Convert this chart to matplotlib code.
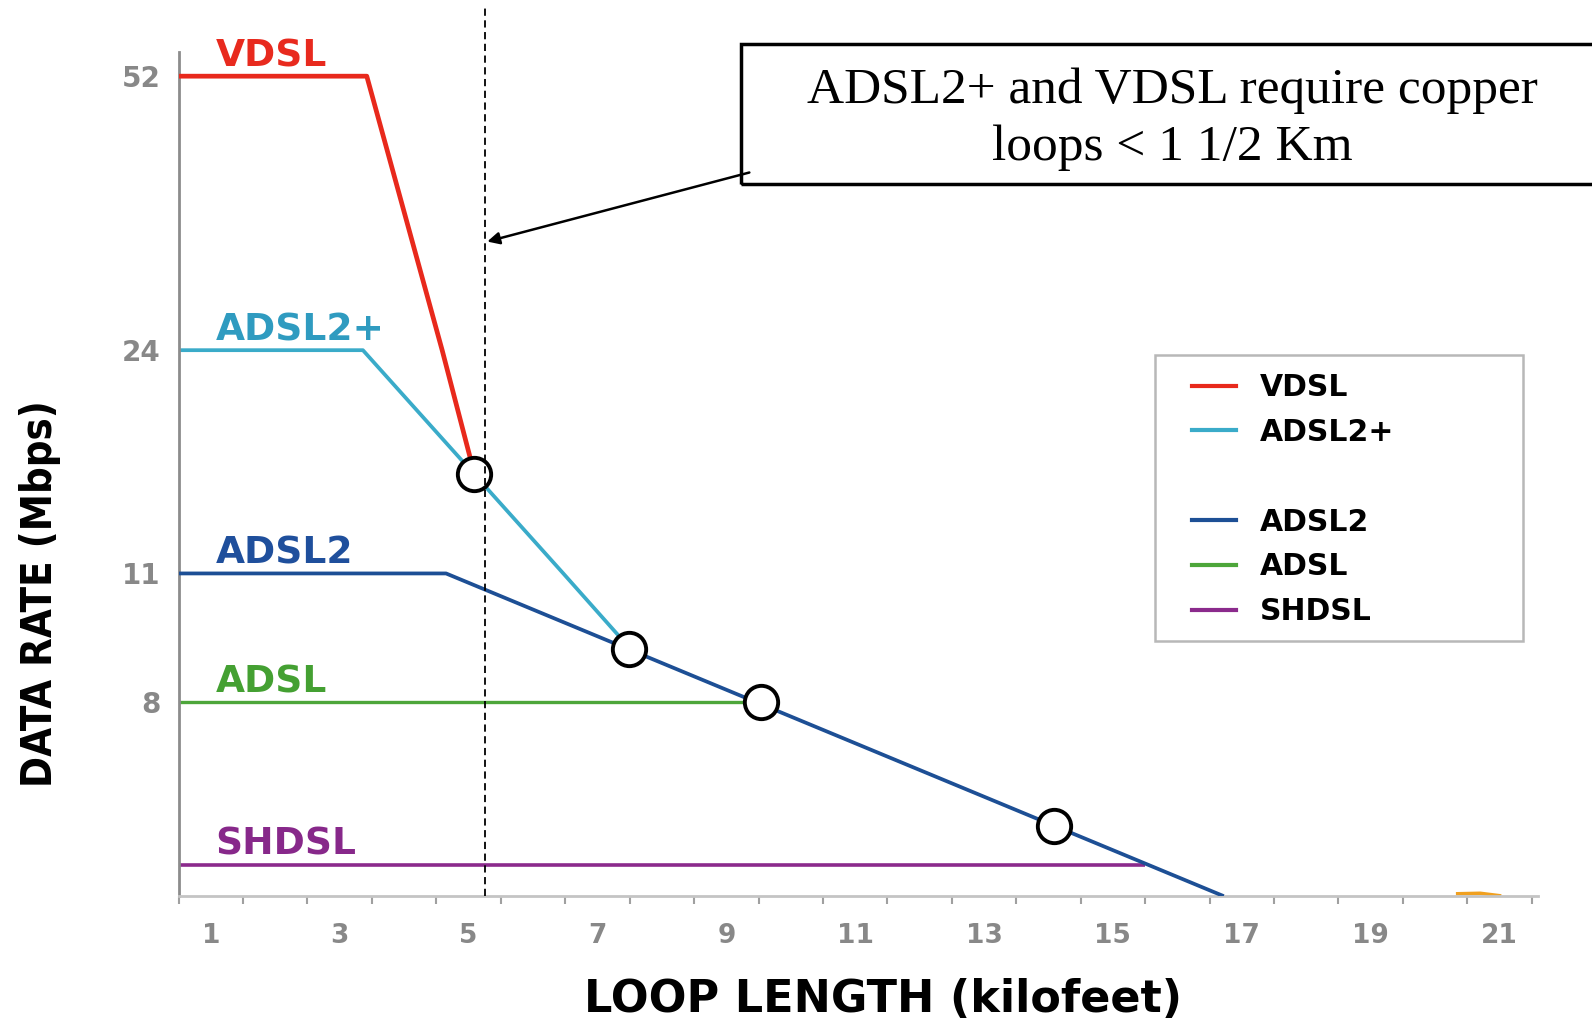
import numpy as np
import matplotlib
matplotlib.use("Agg")
import matplotlib.pyplot as plt
from matplotlib import font_manager as fm
from matplotlib.lines import Line2D
from matplotlib.patches import Rectangle

# series (loop length in kilofeet, data rate in Mbps)
vdsl_x = [0.5, 3.42, 4.59, 5.09]
vdsl_y = [52, 52, 24, 16.8]
adsl2p_x = [0.5, 3.36, 6.47, 7.49]
adsl2p_y = [24, 24, 11, 9.28]
adsl2_x = [0.5, 4.65, 9.47, 16.72]
adsl2_y = [11, 11, 8, 0]
adsl_x = [0.5, 9.5]
adsl_y = [8, 8]
shdsl_x = [0.5, 15.5]
shdsl_y = [1.3, 1.3]
orange_x = [20.35, 20.7, 21.0]
orange_y = [0.1, 0.12, 0.02]

# crossover circles
cross_x = [5.09, 7.49, 9.54, 14.09]
cross_y = [16.8, 9.25, 8.0, 2.9]

names = ["VDSL", "ADSL2+", "ADSL2", "ADSL", "SHDSL"]
line_colors = ["#e8291c", "#3aabc9", "#1d4f95", "#4da63a", "#8b2a8c"]
text_colors = ["#e82a1e", "#2f9bc0", "#1f4f9c", "#44a032", "#87288a"]

y_ticks = [8, 11, 24, 52]
x_ticks = [1, 3, 5, 7, 9, 11, 13, 15, 17, 19, 21]

# the rate axis is not linear: piecewise scale between the labelled rates
scale_vals = [0, 8, 11, 24, 52, 60]
scale_pos = [0, 191, 318, 538, 808, 885]


def fwd(v):
    return np.interp(v, scale_vals, scale_pos)


def inv(p):
    return np.interp(p, scale_pos, scale_vals)


# narrow bold font for the y label if there is one
installed = fm.fontManager.ttflist
ylab_font = {"family": "DejaVu Sans", "size": 26}
if any(f.name == "Liberation Sans Narrow" for f in installed):
    ylab_font = {"family": "Liberation Sans Narrow", "size": 33}
elif any(f.name == "DejaVu Sans" and f.stretch == "condensed" for f in installed):
    ylab_font = {"family": "DejaVu Sans", "size": 30, "stretch": "condensed"}

fig = plt.figure(figsize=(15.92, 10.25), dpi=100)
ax = fig.add_axes([0.1122, 0.1257, 0.854, 0.8238])
ax.set_yscale("function", functions=(fwd, inv))
ax.set_xlim(0.5, 21.6)
ax.set_ylim(0, 54.5)

xs = [vdsl_x, adsl2p_x, adsl2_x, adsl_x, shdsl_x]
ys = [vdsl_y, adsl2p_y, adsl2_y, adsl_y, shdsl_y]
widths = [3.4, 2.7, 2.7, 2.4, 2.6]
zs = [3, 2, 4, 2, 2]
for x, y, c, w, z in zip(xs, ys, line_colors, widths, zs):
    ax.plot(x, y, color=c, lw=w, zorder=z, solid_capstyle="butt")

ax.plot(orange_x, orange_y, color="#f0a020", lw=2.5, zorder=2)

ax.plot(cross_x, cross_y, "o", ms=24, mfc="white", mec="black", mew=2.8, zorder=5)

# series labels over the flat parts
for name, y, c in zip(names, [vdsl_y[0], adsl2p_y[0], adsl2_y[0], adsl_y[0], shdsl_y[0]], text_colors):
    ax.annotate(name, xy=(1.07, y), xytext=(0, 7), textcoords="offset points",
                ha="left", va="baseline", color=c, fontsize=27, fontweight="bold",
                family="DejaVu Sans")

# axes styling
for s in ["top", "right"]:
    ax.spines[s].set_visible(False)
ax.spines["left"].set_color("#8c8c8c")
ax.spines["left"].set_linewidth(2)
ax.spines["bottom"].set_color("#c4c4c4")
ax.spines["bottom"].set_linewidth(2)

ax.set_yticks(y_ticks)
ax.set_yticklabels([str(v) for v in y_ticks])
ax.set_xticks(x_ticks)
ax.set_xticklabels([str(v) for v in x_ticks])
ax.set_xticks(np.arange(0.5, 22, 1.0), minor=True)
ax.tick_params(axis="both", which="major", length=0, labelsize=19, labelcolor="#888888")
ax.tick_params(axis="y", pad=13, labelsize=20)
ax.tick_params(axis="x", pad=19)
ax.tick_params(axis="x", which="minor", length=6, width=1.5, color="#a0a0a0")
for t in ax.get_xticklabels() + ax.get_yticklabels():
    t.set_fontweight("bold")

ax.set_xlabel("LOOP LENGTH (kilofeet)", fontsize=32, fontweight="bold", family="DejaVu Sans")
ax.xaxis.set_label_coords(0.518, -0.137)
ax.xaxis.label.set_va("baseline")
ax.set_ylabel("DATA RATE (Mbps)", fontweight="bold", **ylab_font)
ax.yaxis.set_label_coords(-0.1016, 0.358)
ax.yaxis.label.set_va("center")

# dashed reference line at ~1.5 km
ax.axvline(5.25, ymin=0, ymax=1.052, clip_on=False, color="black", lw=1.3,
           ls=(0, (4, 2.5)), zorder=6)

# callout box
fig.add_artist(Rectangle((0.4656, 0.8208), 0.56, 0.1366, transform=fig.transFigure,
                         fill=False, ec="black", lw=2.5))
fig.text(0.7366, 0.884, "ADSL2+ and VDSL require copper\nloops < 1 1/2 Km",
         ha="center", va="center", fontsize=37, family="Liberation Serif",
         linespacing=1.3)
ax.annotate("", xy=(5.29, 35.1), xycoords="data", xytext=(0.4707, 0.8317),
            textcoords="figure fraction",
            arrowprops=dict(arrowstyle="-|>", color="black", lw=1.8,
                            mutation_scale=18, shrinkA=0, shrinkB=0))

# legend with a blank row between the two groups
handles = []
labels = []
for i, (name, c) in enumerate(zip(names, line_colors)):
    if i == 2:
        handles.append(Line2D([], [], color="none"))
        labels.append(" ")
    handles.append(Line2D([], [], color=c, lw=3))
    labels.append(name)
fig.add_artist(Rectangle((0.7258, 0.3743), 0.2309, 0.2792, transform=fig.transFigure,
                         fill=True, fc="white", ec="#b8b8b8", lw=1.8, zorder=1))
leg = fig.legend(handles, labels, loc="upper left", bbox_to_anchor=(0.749, 0.636),
                 frameon=False, borderpad=0, borderaxespad=0, handlelength=1.47,
                 handletextpad=0.8, labelspacing=0.53,
                 prop={"family": "DejaVu Sans", "weight": "bold", "size": 21.5})

fig.savefig("out.png", dpi=100)
